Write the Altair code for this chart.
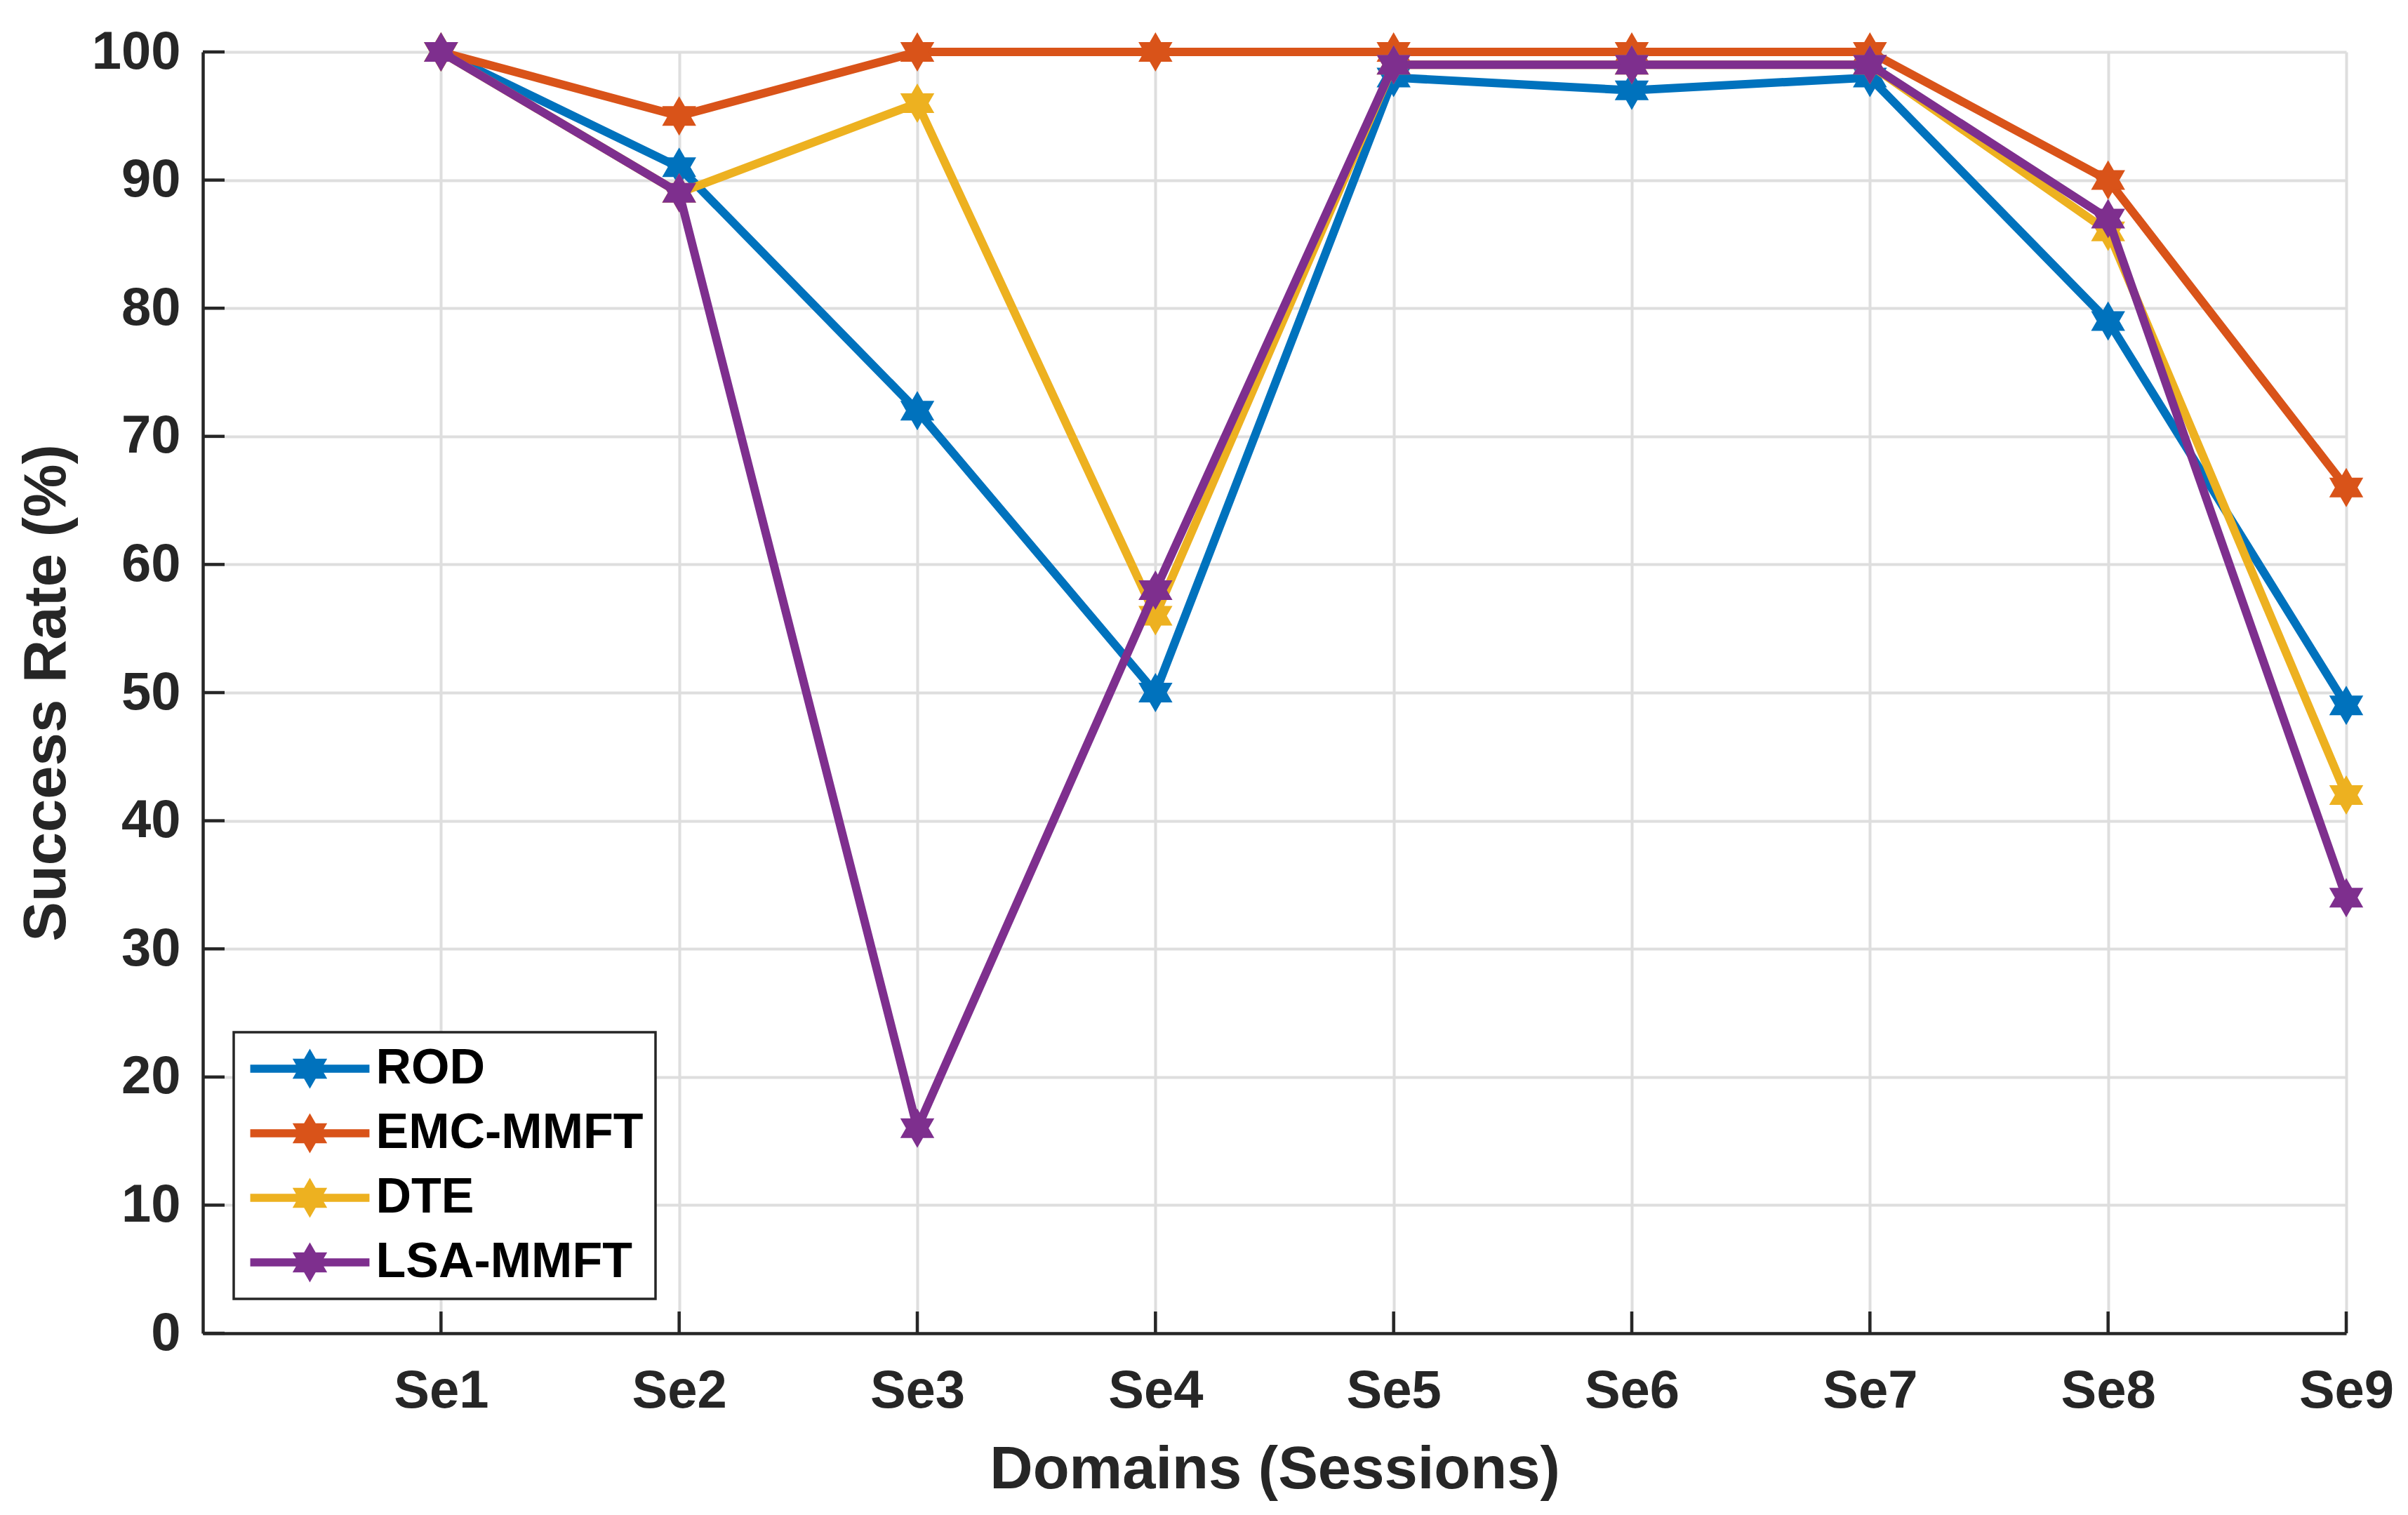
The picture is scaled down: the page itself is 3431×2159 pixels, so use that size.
import altair as alt
import pandas as pd

# ---- data ----
sessions = ["Se1", "Se2", "Se3", "Se4", "Se5", "Se6", "Se7", "Se8", "Se9"]
series_names = ["ROD", "EMC-MMFT", "DTE", "LSA-MMFT"]
rod = [100, 91, 72, 50, 98, 97, 98, 79, 49]
emc_mmft = [100, 95, 100, 100, 100, 100, 100, 90, 66]
dte = [100, 89, 96, 56, 99, 99, 99, 86, 42]
lsa_mmft = [100, 89, 16, 58, 99, 99, 99, 87, 34]
series_colors = ["#0072BD", "#D95319", "#EDB120", "#7E2F8E"]
y_ticks = [0, 10, 20, 30, 40, 50, 60, 70, 80, 90, 100]
x_ticks = [1, 2, 3, 4, 5, 6, 7, 8, 9]

records = []
for name, vals in zip(series_names, [rod, emc_mmft, dte, lsa_mmft]):
    for i, v in enumerate(vals):
        records.append({"series": name, "pos": i + 1, "value": v})
df = pd.DataFrame(records)
ytick_df = pd.DataFrame({"value": y_ticks})
xtick_df = pd.DataFrame({"pos": x_ticks})

W, H = 3054, 1826
FONT = "Liberation Sans"
AX = "#262626"
GRID = "#dedede"

HEX = ("M0,-1L0.2887,-0.5L0.866,-0.5L0.5774,0L0.866,0.5L0.2887,0.5L0,1"
       "L-0.2887,0.5L-0.866,0.5L-0.5774,0L-0.866,-0.5L-0.2887,-0.5Z")
LEG = "M-2.98,-0.205L2.98,-0.205L2.98,0.205L-2.98,0.205Z" + HEX

label_expr = "[" + ",".join("'%s'" % s for s in sessions) + "][datum.value - 1]"

xscale = alt.Scale(domain=[0, 9], nice=False, zero=False)
yscale = alt.Scale(domain=[0, 100], nice=False, zero=False)
cscale = alt.Scale(domain=series_names, range=series_colors)

x_axis = alt.Axis(
    values=x_ticks, labelExpr=label_expr, grid=True, gridColor=GRID, gridWidth=4,
    ticks=False, domainColor=AX, domainWidth=4.5,
    labelFont=FONT, labelFontSize=76, labelFontWeight="bold", labelColor=AX,
    labelPadding=45, labelAngle=0, labelFlush=False, labelOverlap=False,
    title="Domains (Sessions)", titleFont=FONT, titleFontSize=85,
    titleFontWeight="bold", titleColor=AX, titlePadding=33,
)
y_axis = alt.Axis(
    values=y_ticks, grid=True, gridColor=GRID, gridWidth=4,
    ticks=False, domainColor=AX, domainWidth=4.5,
    labelFont=FONT, labelFontSize=76, labelFontWeight="bold", labelColor=AX,
    labelPadding=32, labelFlush=False, labelOverlap=False,
    title="Success Rate (%)", titleFont=FONT, titleFontSize=85,
    titleFontWeight="bold", titleColor=AX, titlePadding=20,
)

legend = alt.Legend(
    orient="none", legendX=44, legendY=1397, title=None,
    symbolType=LEG, symbolSize=3249, symbolStrokeWidth=0, symbolOpacity=1,
    symbolOffset=56.5, labelOffset=59,
    labelFont=FONT, labelFontSize=70, labelFontWeight="bold", labelColor="black",
    labelLimit=2000, padding=17, rowPadding=22,
    strokeColor=AX, fillColor="white",
)

x_enc = alt.X("pos:Q", scale=xscale, axis=x_axis)
y_enc = alt.Y("value:Q", scale=yscale, axis=y_axis)

layers = []
# inward tick marks (MATLAB style)
layers.append(
    alt.Chart(ytick_df).mark_rule(color=AX, strokeWidth=4.5).encode(
        y=y_enc, x=alt.value(0), x2=alt.value(31),
    )
)
layers.append(
    alt.Chart(xtick_df).mark_rule(color=AX, strokeWidth=4.5).encode(
        x=x_enc, y=alt.value(H), y2=alt.value(H - 31),
    )
)

base = alt.Chart(df)
for name, col in zip(series_names, series_colors):
    sub = base.transform_filter(alt.datum.series == name)
    layers.append(
        sub.mark_line(strokeWidth=12, color=col).encode(x=x_enc, y=y_enc)
    )
    layers.append(
        sub.mark_point(filled=True, shape=HEX, size=3136, opacity=1, strokeWidth=0).encode(
            x=x_enc, y=y_enc,
            color=alt.Color("series:N", scale=cscale, legend=legend),
        )
    )

chart = alt.layer(*layers).properties(
    width=W, height=H,
    autosize=alt.AutoSizeParams(type="none"),
    padding={"left": 281, "top": 66, "right": 78, "bottom": 240},
    background="white",
).configure_view(stroke=None).configure_legend(strokeWidth=3.5)

chart.save("out.html", embed_options={"renderer": "svg", "actions": False})
